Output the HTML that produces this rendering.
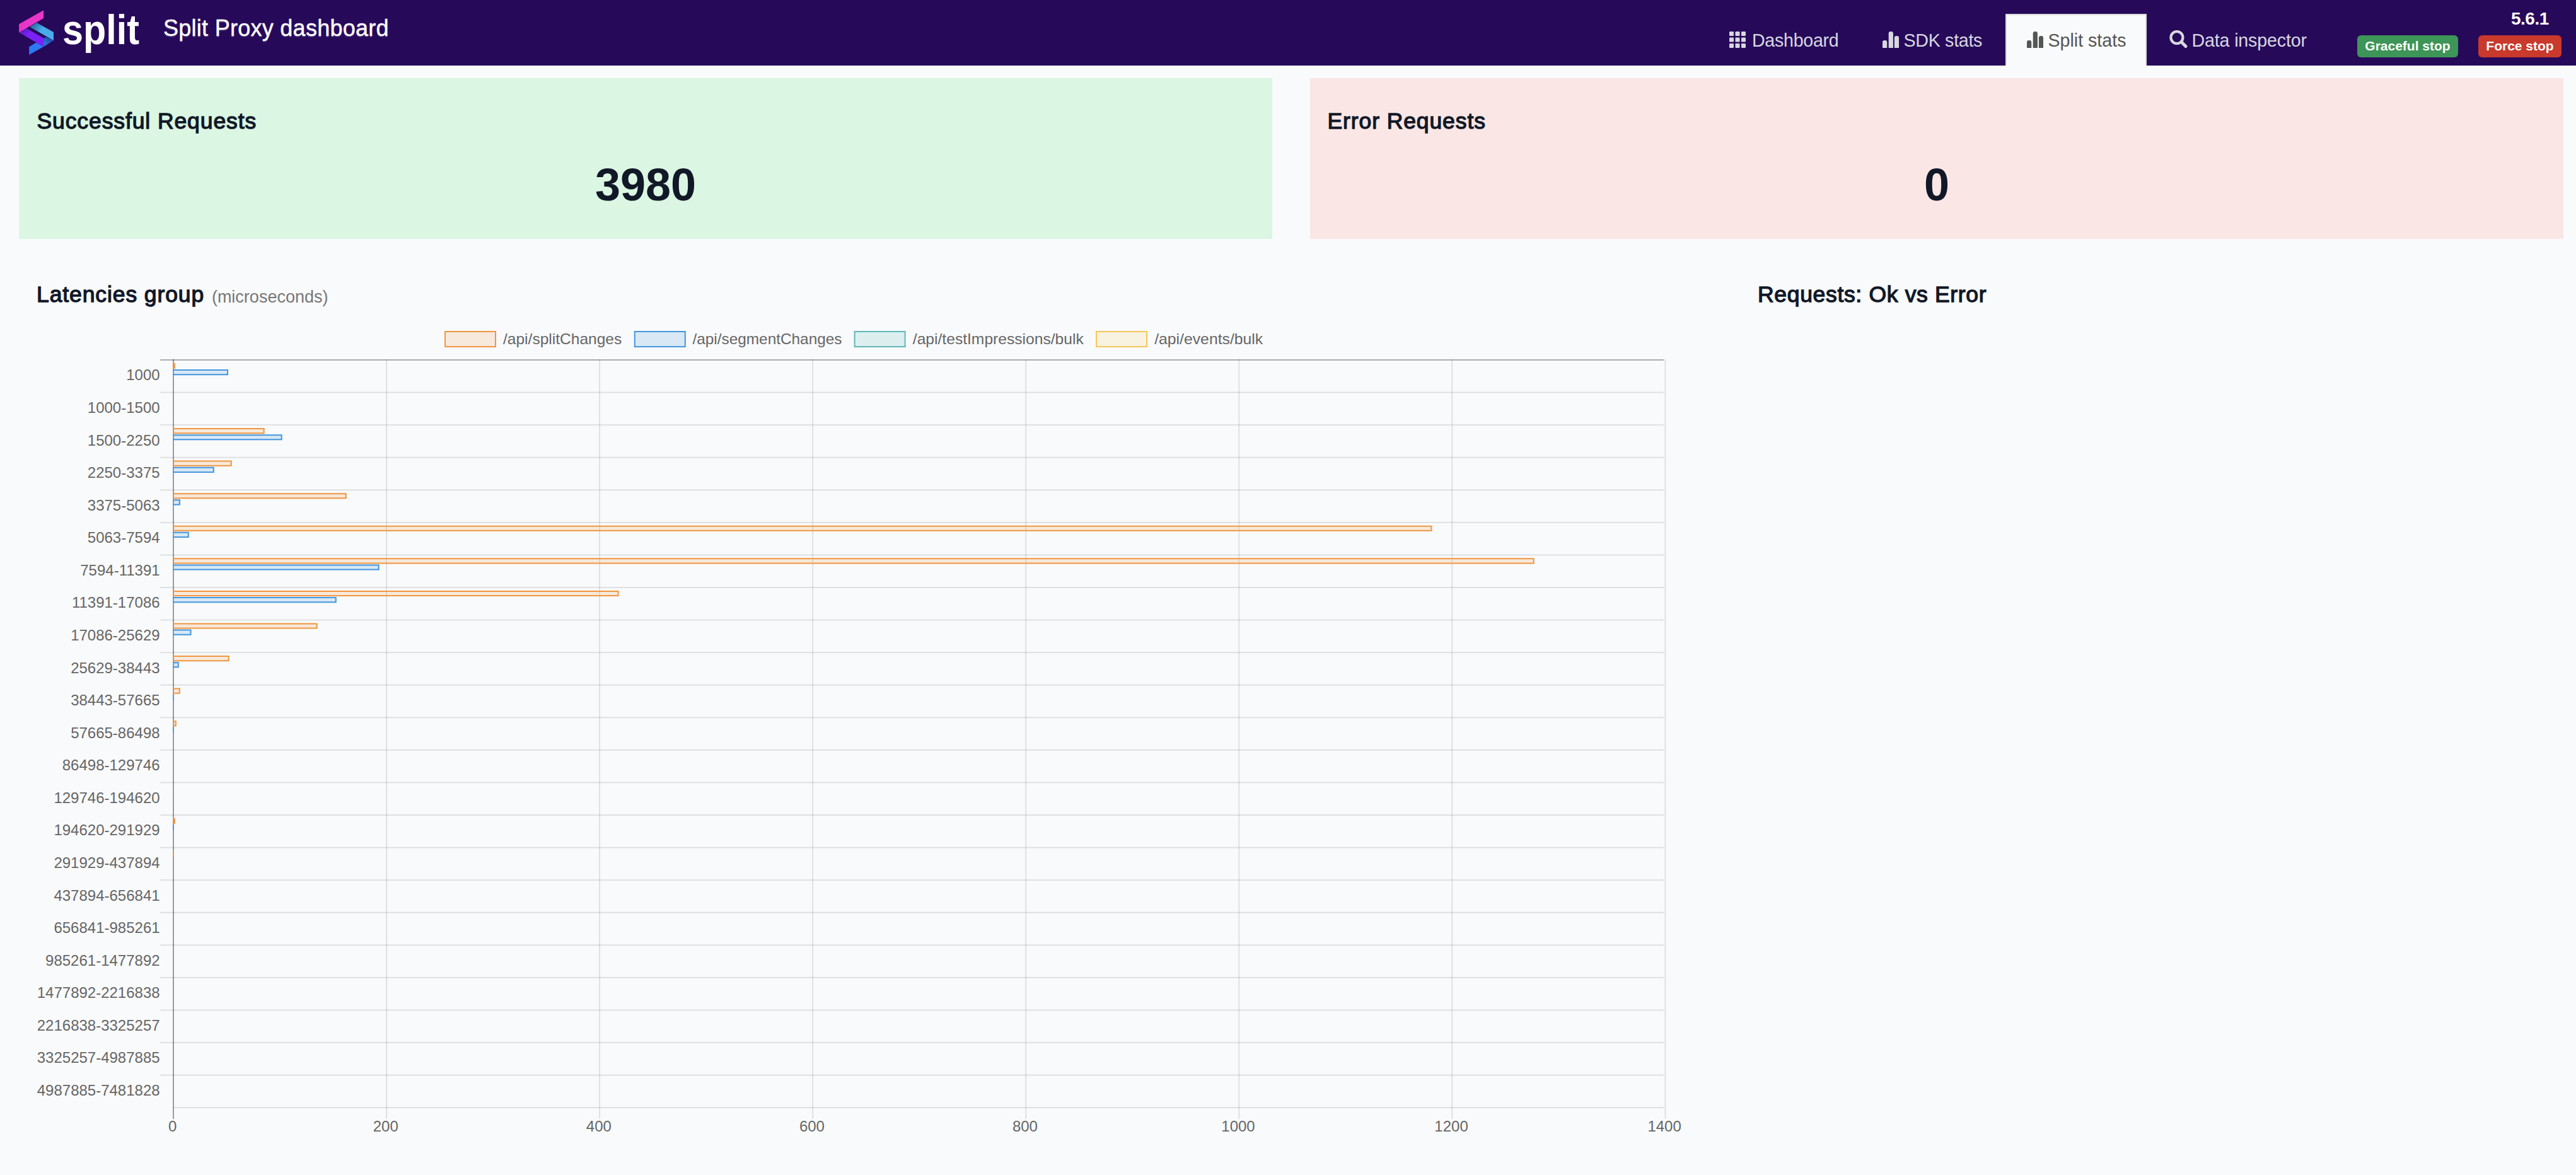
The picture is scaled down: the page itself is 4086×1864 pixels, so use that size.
<!DOCTYPE html>
<html lang="en"><head><meta charset="utf-8"><title>Split Proxy dashboard</title>
<style>
*{box-sizing:border-box;margin:0;padding:0}
html,body{width:4086px;height:1864px;overflow:hidden;background:#F9FAFB;font-family:"Liberation Sans",Arial,sans-serif;color:#111827}
.abs{position:absolute;white-space:nowrap;line-height:1}
#hdr{position:absolute;left:0;top:0;width:4086px;height:104px;background:#27095A}
.logo{position:absolute;left:0;top:0}
.word{left:98.6px;top:12.6px;font-size:67px;font-weight:bold;color:#fff;transform:scaleX(.885);transform-origin:0 0}
.brand{left:259px;top:27.4px;font-size:36px;color:#fff;letter-spacing:.27px;-webkit-text-stroke:.4px #fff;text-shadow:0 2px 0 rgba(255,255,255,.18)}
.tab{position:absolute;top:22px;height:82px;font-size:28.6px;letter-spacing:-.28px;color:#D7D8E0;white-space:nowrap;line-height:1}
.tab span{position:absolute;top:28px}
.tab svg{position:absolute}
.tab.act{background:#F9FAFB;border:2px solid #ddd;border-bottom:0;color:#555}
.ver{font-size:28px;letter-spacing:-.5px;font-weight:bold;color:#fff}
.lbl{position:absolute;top:56px;height:35px;border-radius:6px;color:#fff;font-weight:bold;font-size:21px;line-height:1;white-space:nowrap;text-align:center;padding-top:5.8px}
.card{position:absolute;top:124px;height:254.5px}
.h3{font-size:35.5px;font-weight:normal;letter-spacing:.9px;-webkit-text-stroke:1.3px #111827}
.big{font-size:72px;font-weight:bold;text-align:center}
.chart{position:absolute;left:0;top:0}
small{font-size:27px;color:#777;-webkit-text-stroke:0;font-weight:normal;letter-spacing:0;margin-left:1px;position:relative;top:1px}
</style></head><body>
<div id="hdr">
<svg class="logo" width="110" height="104" viewBox="0 0 110 104">
<defs>
<linearGradient id="g1" x1="0" y1="0" x2="1" y2="0.6"><stop offset="0" stop-color="#1F5A8A"/><stop offset="0.55" stop-color="#4AABEA"/><stop offset="1" stop-color="#4AABEA"/></linearGradient>
<linearGradient id="g2" x1="0" y1="0" x2="0.6" y2="0.6"><stop offset="0" stop-color="#4A1AA6"/><stop offset="0.6" stop-color="#7A22F6"/><stop offset="1" stop-color="#7A22F6"/></linearGradient>
<linearGradient id="g3" x1="1" y1="0" x2="0" y2="1"><stop offset="0" stop-color="#1C3C8E"/><stop offset="1" stop-color="#2F80F5"/></linearGradient>
</defs>
<polygon points="46.2,74.3 57.5,67.6 69.1,73.9 46.2,87" fill="#2F78F5"/>
<polygon points="69.1,60.4 73.9,58.9 85,64.2 69.1,73.9" fill="url(#g3)"/>
<polygon points="58.2,36.1 85,51.1 85,64.2 47,42.5" fill="url(#g1)"/>
<polygon points="30.1,51.4 41.7,44.7 69.1,60.4 69.1,73.9" fill="url(#g2)"/>
<polygon points="30.1,38.3 69.1,16.2 69.1,29 30.1,51.4" fill="#E935C8"/>
</svg>
<div class="abs word">split</div>
<div class="abs brand">Split Proxy dashboard</div>

<div class="tab" style="left:2711px;width:237px"><svg style="left:32px;top:28px" width="26" height="26" viewBox="0 0 26 26"><g fill="#D7D8E0"><rect x="0" y="0" width="7" height="7" rx="1.2"/><rect x="9.5" y="0" width="7" height="7" rx="1.2"/><rect x="19" y="0" width="7" height="7" rx="1.2"/><rect x="0" y="9.5" width="7" height="7" rx="1.2"/><rect x="9.5" y="9.5" width="7" height="7" rx="1.2"/><rect x="19" y="9.5" width="7" height="7" rx="1.2"/><rect x="0" y="19" width="7" height="7" rx="1.2"/><rect x="9.5" y="19" width="7" height="7" rx="1.2"/><rect x="19" y="19" width="7" height="7" rx="1.2"/></g></svg><span style="left:68px">Dashboard</span></div>
<div class="tab" style="left:2952px;width:225px"><svg style="left:34px;top:28px" width="26" height="26" viewBox="0 0 26 26"><g fill="#D7D8E0"><path d="M0 26V17a3 3 0 0 1 3-3h1.2a3 3 0 0 1 3 3v9zM9.7 26V3a3 3 0 0 1 3-3h1.2a3 3 0 0 1 3 3v23zM18.9 26V10a3 3 0 0 1 3-3h1.2a3 3 0 0 1 3 3v16z"/></g></svg><span style="left:67.5px">SDK stats</span></div>
<div class="tab act" style="left:3181px;width:224px"><svg style="left:32px;top:26px" width="26" height="26" viewBox="0 0 26 26"><g fill="#555"><path d="M0 26V17a3 3 0 0 1 3-3h1.2a3 3 0 0 1 3 3v9zM9.7 26V3a3 3 0 0 1 3-3h1.2a3 3 0 0 1 3 3v23zM18.9 26V10a3 3 0 0 1 3-3h1.2a3 3 0 0 1 3 3v16z"/></g></svg><span style="left:65.5px;top:26px;letter-spacing:0">Split stats</span></div>
<div class="tab" style="left:3409px;width:284px"><svg style="left:32px;top:26px" width="30" height="30" viewBox="0 0 30 30"><circle cx="11.9" cy="11.5" r="9.5" fill="none" stroke="#D7D8E0" stroke-width="4.2"/><path d="M19.2 18.8L26 25.6" stroke="#D7D8E0" stroke-width="5" stroke-linecap="round"/></svg><span style="left:67.5px;letter-spacing:-.14px">Data inspector</span></div>

<div class="abs ver" style="left:3983px;top:16.1px">5.6.1</div>
<div class="lbl" style="left:3739px;width:160px;background:#3D9557">Graceful stop</div>
<div class="lbl" style="left:3931px;width:132px;background:#C9392C">Force stop</div>
</div>

<div class="card" style="left:30px;width:1988px;background:#DBF6E2"></div>
<div class="card" style="left:2078px;width:1988px;background:#FAE6E5"></div>
<div class="abs h3" style="left:58.5px;top:175px">Successful Requests</div>
<div class="abs h3" style="left:2105.5px;top:175px">Error Requests</div>
<div class="abs big" style="left:30px;width:1988px;top:257px">3980</div>
<div class="abs big" style="left:2078px;width:1988px;top:257px">0</div>
<div class="abs h3" style="left:58px;top:450px">Latencies group <small>(microseconds)</small></div>
<div class="abs h3" style="left:2788px;top:450px;letter-spacing:.67px">Requests: Ok vs Error</div>
<svg class="chart" width="4086" height="1864" viewBox="0 0 4086 1864">
<g font-family="'Liberation Sans', Arial, sans-serif" font-size="24" fill="#666">
<rect x="706" y="526" width="80" height="24" fill="rgba(240,151,66,0.17)" stroke="rgb(240,151,66)" stroke-width="2"/>
<text x="798" y="545.7" textLength="188.3" lengthAdjust="spacingAndGlyphs">/api/splitChanges</text>
<rect x="1006.8" y="526" width="80" height="24" fill="rgba(68,150,224,0.18)" stroke="rgb(68,150,224)" stroke-width="2"/>
<text x="1098.5" y="545.7" textLength="237" lengthAdjust="spacingAndGlyphs">/api/segmentChanges</text>
<rect x="1355.6" y="526" width="80" height="24" fill="rgba(94,184,184,0.18)" stroke="rgb(94,184,184)" stroke-width="2"/>
<text x="1447.8" y="545.7" textLength="271" lengthAdjust="spacingAndGlyphs">/api/testImpressions/bulk</text>
<rect x="1739" y="526" width="80" height="24" fill="rgba(246,200,92,0.17)" stroke="rgb(246,200,92)" stroke-width="2"/>
<text x="1831.2" y="545.7" textLength="172" lengthAdjust="spacingAndGlyphs">/api/events/bulk</text>
<rect x="254" y="570.00" width="2385.40" height="2" fill="rgba(0,0,0,0.3)"/>
<rect x="254" y="621.57" width="2385.40" height="2" fill="rgba(0,0,0,0.1)"/>
<rect x="254" y="673.14" width="2385.40" height="2" fill="rgba(0,0,0,0.1)"/>
<rect x="254" y="724.71" width="2385.40" height="2" fill="rgba(0,0,0,0.1)"/>
<rect x="254" y="776.28" width="2385.40" height="2" fill="rgba(0,0,0,0.1)"/>
<rect x="254" y="827.85" width="2385.40" height="2" fill="rgba(0,0,0,0.1)"/>
<rect x="254" y="879.42" width="2385.40" height="2" fill="rgba(0,0,0,0.1)"/>
<rect x="254" y="930.99" width="2385.40" height="2" fill="rgba(0,0,0,0.1)"/>
<rect x="254" y="982.56" width="2385.40" height="2" fill="rgba(0,0,0,0.1)"/>
<rect x="254" y="1034.13" width="2385.40" height="2" fill="rgba(0,0,0,0.1)"/>
<rect x="254" y="1085.70" width="2385.40" height="2" fill="rgba(0,0,0,0.1)"/>
<rect x="254" y="1137.27" width="2385.40" height="2" fill="rgba(0,0,0,0.1)"/>
<rect x="254" y="1188.84" width="2385.40" height="2" fill="rgba(0,0,0,0.1)"/>
<rect x="254" y="1240.41" width="2385.40" height="2" fill="rgba(0,0,0,0.1)"/>
<rect x="254" y="1291.98" width="2385.40" height="2" fill="rgba(0,0,0,0.1)"/>
<rect x="254" y="1343.55" width="2385.40" height="2" fill="rgba(0,0,0,0.1)"/>
<rect x="254" y="1395.12" width="2385.40" height="2" fill="rgba(0,0,0,0.1)"/>
<rect x="254" y="1446.69" width="2385.40" height="2" fill="rgba(0,0,0,0.1)"/>
<rect x="254" y="1498.26" width="2385.40" height="2" fill="rgba(0,0,0,0.1)"/>
<rect x="254" y="1549.83" width="2385.40" height="2" fill="rgba(0,0,0,0.1)"/>
<rect x="254" y="1601.40" width="2385.40" height="2" fill="rgba(0,0,0,0.1)"/>
<rect x="254" y="1652.97" width="2385.40" height="2" fill="rgba(0,0,0,0.1)"/>
<rect x="254" y="1704.54" width="2385.40" height="2" fill="rgba(0,0,0,0.1)"/>
<rect x="274.65" y="1756.11" width="2364.75" height="2" fill="rgba(0,0,0,0.1)"/>
<rect x="274.00" y="570.00" width="2" height="1205.11" fill="rgba(0,0,0,0.38)"/>
<text x="273.75" y="1795.2" text-anchor="middle">0</text>
<rect x="612.05" y="570.00" width="2" height="1205.11" fill="rgba(0,0,0,0.1)"/>
<text x="611.80" y="1795.2" text-anchor="middle">200</text>
<rect x="950.10" y="570.00" width="2" height="1205.11" fill="rgba(0,0,0,0.1)"/>
<text x="949.85" y="1795.2" text-anchor="middle">400</text>
<rect x="1288.15" y="570.00" width="2" height="1205.11" fill="rgba(0,0,0,0.1)"/>
<text x="1287.90" y="1795.2" text-anchor="middle">600</text>
<rect x="1626.20" y="570.00" width="2" height="1205.11" fill="rgba(0,0,0,0.1)"/>
<text x="1625.95" y="1795.2" text-anchor="middle">800</text>
<rect x="1964.25" y="570.00" width="2" height="1205.11" fill="rgba(0,0,0,0.1)"/>
<text x="1964.00" y="1795.2" text-anchor="middle">1000</text>
<rect x="2302.30" y="570.00" width="2" height="1205.11" fill="rgba(0,0,0,0.1)"/>
<text x="2302.05" y="1795.2" text-anchor="middle">1200</text>
<rect x="2640.35" y="570.00" width="2" height="1205.11" fill="rgba(0,0,0,0.1)"/>
<text x="2640.10" y="1795.2" text-anchor="middle">1400</text>
<text x="253.6" y="603.38" text-anchor="end">1000</text>
<text x="253.6" y="654.96" text-anchor="end">1000-1500</text>
<text x="253.6" y="706.52" text-anchor="end">1500-2250</text>
<text x="253.6" y="758.10" text-anchor="end">2250-3375</text>
<text x="253.6" y="809.67" text-anchor="end">3375-5063</text>
<text x="253.6" y="861.24" text-anchor="end">5063-7594</text>
<text x="253.6" y="912.80" text-anchor="end">7594-11391</text>
<text x="253.6" y="964.38" text-anchor="end">11391-17086</text>
<text x="253.6" y="1015.95" text-anchor="end">17086-25629</text>
<text x="253.6" y="1067.51" text-anchor="end">25629-38443</text>
<text x="253.6" y="1119.09" text-anchor="end">38443-57665</text>
<text x="253.6" y="1170.65" text-anchor="end">57665-86498</text>
<text x="253.6" y="1222.22" text-anchor="end">86498-129746</text>
<text x="253.6" y="1273.80" text-anchor="end">129746-194620</text>
<text x="253.6" y="1325.36" text-anchor="end">194620-291929</text>
<text x="253.6" y="1376.93" text-anchor="end">291929-437894</text>
<text x="253.6" y="1428.50" text-anchor="end">437894-656841</text>
<text x="253.6" y="1480.07" text-anchor="end">656841-985261</text>
<text x="253.6" y="1531.64" text-anchor="end">985261-1477892</text>
<text x="253.6" y="1583.21" text-anchor="end">1477892-2216838</text>
<text x="253.6" y="1634.78" text-anchor="end">2216838-3325257</text>
<text x="253.6" y="1686.36" text-anchor="end">3325257-4987885</text>
<text x="253.6" y="1737.92" text-anchor="end">4987885-7481828</text>
<rect x="274.05" y="575.90" width="3.75" height="9.10" fill="rgba(240,151,66,0.17)"/><path d="M274.05 576.90H276.80V584.00H274.05" fill="none" stroke="rgb(240,151,66)" stroke-width="2"/>
<rect x="274.05" y="586.00" width="87.95" height="9.20" fill="rgba(68,150,224,0.18)"/><path d="M274.05 587.00H361.00V594.20H274.05" fill="none" stroke="rgb(68,150,224)" stroke-width="2"/>
<rect x="274.05" y="679.04" width="145.55" height="9.10" fill="rgba(240,151,66,0.17)"/><path d="M274.05 680.04H418.60V687.14H274.05" fill="none" stroke="rgb(240,151,66)" stroke-width="2"/>
<rect x="274.05" y="689.14" width="173.55" height="9.20" fill="rgba(68,150,224,0.18)"/><path d="M274.05 690.14H446.60V697.34H274.05" fill="none" stroke="rgb(68,150,224)" stroke-width="2"/>
<rect x="274.05" y="730.61" width="93.65" height="9.10" fill="rgba(240,151,66,0.17)"/><path d="M274.05 731.61H366.70V738.71H274.05" fill="none" stroke="rgb(240,151,66)" stroke-width="2"/>
<rect x="274.05" y="740.71" width="65.65" height="9.20" fill="rgba(68,150,224,0.18)"/><path d="M274.05 741.71H338.70V748.91H274.05" fill="none" stroke="rgb(68,150,224)" stroke-width="2"/>
<rect x="274.05" y="782.18" width="275.65" height="9.10" fill="rgba(240,151,66,0.17)"/><path d="M274.05 783.18H548.70V790.28H274.05" fill="none" stroke="rgb(240,151,66)" stroke-width="2"/>
<rect x="274.05" y="792.28" width="11.85" height="9.20" fill="rgba(68,150,224,0.18)"/><path d="M274.05 793.28H284.90V800.48H274.05" fill="none" stroke="rgb(68,150,224)" stroke-width="2"/>
<rect x="274.05" y="833.75" width="1997.45" height="9.10" fill="rgba(240,151,66,0.17)"/><path d="M274.05 834.75H2270.50V841.85H274.05" fill="none" stroke="rgb(240,151,66)" stroke-width="2"/>
<rect x="274.05" y="843.85" width="25.65" height="9.20" fill="rgba(68,150,224,0.18)"/><path d="M274.05 844.85H298.70V852.05H274.05" fill="none" stroke="rgb(68,150,224)" stroke-width="2"/>
<rect x="274.05" y="885.32" width="2159.65" height="9.10" fill="rgba(240,151,66,0.17)"/><path d="M274.05 886.32H2432.70V893.42H274.05" fill="none" stroke="rgb(240,151,66)" stroke-width="2"/>
<rect x="274.05" y="895.42" width="327.55" height="9.20" fill="rgba(68,150,224,0.18)"/><path d="M274.05 896.42H600.60V903.62H274.05" fill="none" stroke="rgb(68,150,224)" stroke-width="2"/>
<rect x="274.05" y="936.89" width="707.45" height="9.10" fill="rgba(240,151,66,0.17)"/><path d="M274.05 937.89H980.50V944.99H274.05" fill="none" stroke="rgb(240,151,66)" stroke-width="2"/>
<rect x="274.05" y="946.99" width="259.65" height="9.20" fill="rgba(68,150,224,0.18)"/><path d="M274.05 947.99H532.70V955.19H274.05" fill="none" stroke="rgb(68,150,224)" stroke-width="2"/>
<rect x="274.05" y="988.46" width="229.45" height="9.10" fill="rgba(240,151,66,0.17)"/><path d="M274.05 989.46H502.50V996.56H274.05" fill="none" stroke="rgb(240,151,66)" stroke-width="2"/>
<rect x="274.05" y="998.56" width="29.45" height="9.20" fill="rgba(68,150,224,0.18)"/><path d="M274.05 999.56H302.50V1006.76H274.05" fill="none" stroke="rgb(68,150,224)" stroke-width="2"/>
<rect x="274.05" y="1040.03" width="89.55" height="9.10" fill="rgba(240,151,66,0.17)"/><path d="M274.05 1041.03H362.60V1048.13H274.05" fill="none" stroke="rgb(240,151,66)" stroke-width="2"/>
<rect x="274.05" y="1050.13" width="9.65" height="9.20" fill="rgba(68,150,224,0.18)"/><path d="M274.05 1051.13H282.70V1058.33H274.05" fill="none" stroke="rgb(68,150,224)" stroke-width="2"/>
<rect x="274.05" y="1091.60" width="11.75" height="9.10" fill="rgba(240,151,66,0.17)"/><path d="M274.05 1092.60H284.80V1099.70H274.05" fill="none" stroke="rgb(240,151,66)" stroke-width="2"/>
<rect x="274.05" y="1101.70" width="1.60" height="9.20" fill="rgb(68,150,224)"/>
<rect x="274.05" y="1143.17" width="5.75" height="9.10" fill="rgba(240,151,66,0.17)"/><path d="M274.05 1144.17H278.80V1151.27H274.05" fill="none" stroke="rgb(240,151,66)" stroke-width="2"/>
<rect x="274.05" y="1153.27" width="1.60" height="9.20" fill="rgb(68,150,224)"/>
<rect x="274.05" y="1297.88" width="3.75" height="9.10" fill="rgba(240,151,66,0.17)"/><path d="M274.05 1298.88H276.80V1305.98H274.05" fill="none" stroke="rgb(240,151,66)" stroke-width="2"/>
<rect x="274.05" y="1307.98" width="1.60" height="9.20" fill="rgb(68,150,224)"/>
<rect x="274.05" y="1349.45" width="1.60" height="9.10" fill="rgb(240,151,66)"/>
</g></svg>
</body></html>
